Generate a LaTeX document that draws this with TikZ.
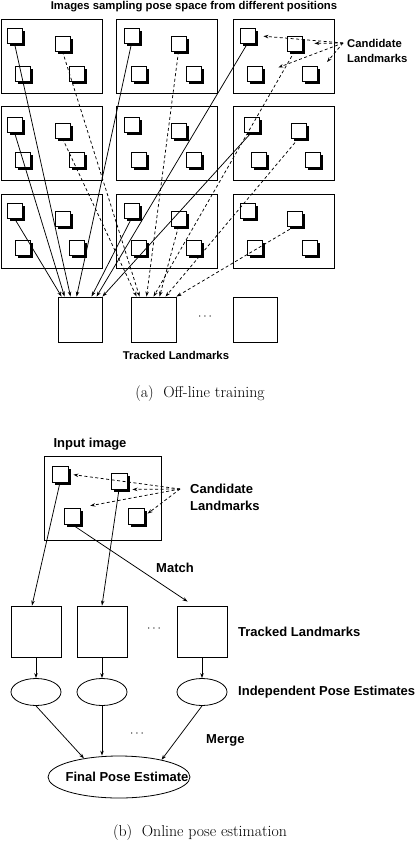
\documentclass[tikz,border=0pt]{standalone}
\usepackage{fontspec}
\newfontfamily\lab{Liberation Sans}
\usetikzlibrary{arrows.meta,shapes.geometric,shadows}
\begin{document}
\begin{tikzpicture}[x=1pt,y=-1pt,
  fr/.style={draw, line width=0.9pt, inner sep=0pt},
  sq/.style={draw, fill=white, line width=0.9pt, minimum size=15pt, inner sep=0pt,
    general shadow={fill=black, shadow xshift=3pt, shadow yshift=-3pt}},
  sqb/.style={sq, minimum size=16pt},
  bx/.style={draw, line width=0.9pt, inner sep=0pt},
  ell/.style={draw, ellipse, line width=0.8pt, inner sep=0pt},
  sol/.style={line width=0.75pt, -{Stealth[length=5pt,width=3.5pt]}},
  dsh/.style={line width=0.75pt, dash pattern=on 3pt off 2.5pt, -{Stealth[length=5pt,width=3.5pt]}},
  lbA/.style={font=\lab\bfseries\fontsize{11.3}{15}\selectfont, inner sep=0pt},
  lbB/.style={font=\lab\bfseries\fontsize{13}{17}\selectfont, inner sep=0pt},
  capt/.style={font=\fontsize{15.8}{19}\selectfont, inner sep=0pt},
  dots/.style={font=\fontsize{12}{12}\selectfont, inner sep=0pt}
]
\fill[white] (0,0) rectangle (420,841);
\useasboundingbox (0,0) rectangle (420,841);

% ---------- (a) Off-line training ----------
\node[lbA] (title) at (194,6.5) {Images sampling pose space from different positions};

\foreach \n/\x/\y in {f11/52/56, f12/167/56, f13/283.5/56,
                      f21/52/143.5, f22/167/143.5, f23/283.5/143.5,
                      f31/52/231.5, f32/167/231.5, f33/283.5/231.5}
  \node[fr, minimum width=101pt, minimum height=74pt] (\n) at (\x,\y) {};

\foreach \n/\x/\y in {
  s11tl/14.5/35.5, s11tr/62.5/43.5, s11bl/22.5/73.5, s11br/76.5/73.5,
  s12tl/131.5/35.5, s12tr/178.5/43.5, s12bl/138.5/73.5, s12br/193.5/73.5,
  s13tl/247.5/35.5, s13tr/294.5/43.5, s13bl/254.5/73.5, s13br/309.5/73.5,
  s21tl/14.5/124.5, s21tr/62.5/130.5, s21bl/22.5/159.5, s21br/76.5/159.5,
  s22tl/131.5/124.5, s22tr/178.5/130.5, s22bl/138.5/159.5, s22br/193.5/159.5,
  s23tl/251.5/124.5, s23tr/298.5/130.5, s23bl/258.5/159.5, s23br/312.5/159.5,
  s31tl/14.5/210.5, s31tr/62.5/218.5, s31bl/22.5/247.5, s31br/76.5/247.5,
  s32tl/131.5/210.5, s32tr/178.5/218.5, s32bl/138.5/247.5, s32br/193.5/247.5,
  s33tl/247.5/210.5, s33tr/294.5/218.5, s33bl/254.5/247.5, s33br/309.5/247.5}
  \node[sq] (\n) at (\x,\y) {};

\node[bx, minimum width=44pt, minimum height=45pt] (a1) at (80,319.5) {};
\node[bx, minimum width=45pt, minimum height=45pt] (a2) at (153.5,319.5) {};
\node[bx, minimum width=44pt, minimum height=45pt] (a3) at (255,319.5) {};
\node[dots] (dotsA) at (205,317) {$\cdots$};
\node[lbA] (trackA) at (176,355) {Tracked Landmarks};
\node[capt] (capA) at (200,394) {(a)\ \ Off-line training};

% solid: to first tracked landmark
\draw[sol] (s11tl.south) -- ([xshift=13pt]a1.north west);
\draw[sol] (s21tl.south) -- ([xshift=7pt]a1.north west);
\draw[sol] (s31tl.south) -- ([xshift=4pt]a1.north west);
\draw[sol] (s12tl.south) -- ([xshift=19pt]a1.north west);
\draw[sol] (s32tl.south) -- ([xshift=34pt]a1.north west);
\draw[sol] (s13tl.south) -- ([xshift=39pt]a1.north west);
\draw[sol] (s23tl.south) -- (a1.north east);

% dashed: to second tracked landmark
\draw[dsh] (s21tr.south) -- ([xshift=6pt]a2.north west);
\draw[dsh] (s11tr.south) -- ([xshift=9pt]a2.north west);
\draw[dsh] (s12tr.south) -- ([xshift=16pt]a2.north west);
\draw[dsh] (s13tr.south) -- ([xshift=23pt]a2.north west);
\draw[dsh] (s32tr.south) -- ([xshift=29pt]a2.north west);
\draw[dsh] (s23tr.south) -- ([xshift=35pt]a2.north west);
\draw[dsh] (s33tr.south) -- (a2.north east);

% candidate landmarks (a)
\coordinate (cA) at (343,43);
\node[lbA, anchor=west, align=left] (candA) at (347,50.5) {Candidate\\Landmarks};
\draw[dsh, shorten >=8pt] (cA) -- (s13tl.east);
\draw[dsh, shorten >=12pt] (cA) -- (s13tr.east);
\draw[dsh, shorten >=17pt] (cA) -- (s13bl.east);
\draw[dsh, shorten >=15pt] (cA) -- (s13br.east);

% ---------- (b) Online pose estimation ----------
\node[lbB] (inlab) at (90,444) {Input image};
\node[fr, minimum width=117pt, minimum height=84pt] (inframe) at (102.5,498) {};
\node[sqb] (itl) at (60,474) {};
\node[sqb] (itr) at (119,481) {};
\node[sqb] (ibl) at (72,516) {};
\node[sqb] (ibr) at (136,516) {};

\coordinate (cB) at (180,489);
\node[lbB, anchor=west, align=left] (candB) at (190,497.5) {Candidate\\Landmarks};
\draw[dsh, shorten >=5pt] (cB) -- (itl.east);
\draw[dsh, shorten >=5pt] (cB) -- (itr.south east);
\draw[dsh, shorten >=10pt] (cB) -- (ibl.north east);
\draw[dsh, shorten >=4pt] (cB) -- (ibr.east);

\node[bx, minimum width=50pt, minimum height=51pt] (b1) at (36,631.5) {};
\node[bx, minimum width=50pt, minimum height=51pt] (b2) at (102,631.5) {};
\node[bx, minimum width=50pt, minimum height=51pt] (b3) at (202,631.5) {};
\node[dots] (dotsB) at (154,629) {$\cdots$};
\node[lbB, anchor=west] (trackB) at (238,632) {Tracked Landmarks};
\node[lbB] (match) at (175,568) {Match};

\draw[sol] (itl.south) -- ([xshift=-4pt]b1.north);
\draw[sol] (itr.south) -- (b2.north);
\draw[sol] (ibl.south) -- ([xshift=11pt,yshift=4pt]b3.north west);

\node[ell, minimum width=50pt, minimum height=27pt] (e1) at (36,692) {};
\node[ell, minimum width=50pt, minimum height=27pt] (e2) at (102,692) {};
\node[ell, minimum width=50pt, minimum height=27pt] (e3) at (202,692) {};
\node[lbB, anchor=west] (indep) at (238,692) {Independent Pose Estimates};

\draw[sol] (b1.south) -- (e1.north);
\draw[sol] (b2.south) -- (e2.north);
\draw[sol] (b3.south) -- (e3.north);

\node[ell, minimum width=142pt, minimum height=42pt] (fin) at (119,777) {};
\node[lbB] (fintext) at (127,777) {Final Pose Estimate};
\node[dots] (dotsC) at (137,734) {$\cdots$};
\node[lbB, anchor=west] (merge) at (206,740) {Merge};

\draw[sol] (e1.south) -- (fin.152);
\draw[sol] (e2.south) -- (e2.south |- fin.north);
\draw[sol] (e3.south) -- (fin.22);

\node[capt] (capB) at (200,833) {(b)\ \ Online pose estimation};
\end{tikzpicture}
\end{document}
